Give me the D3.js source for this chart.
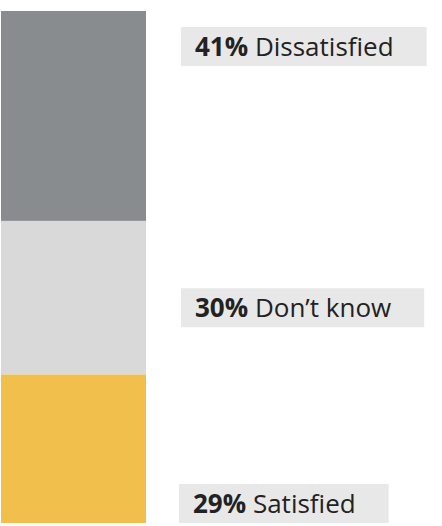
<!DOCTYPE html>
<html><head><meta charset="utf-8">
<script src="https://d3js.org/d3.v7.min.js"></script>
<style>body{margin:0;background:#fff}svg{display:block}</style>
</head><body>
<svg id="c" width="442" height="526"></svg>
<script>
const categories = ["Dissatisfied", "Don\u2019t know", "Satisfied"];
const values = [41, 30, 29];
const colors = ["#898c8f", "#d9d9d9", "#f0bf4c"];
const labelAnchor = ["top", "middle", "bottom"];

const svg = d3.select("#c");
const total = d3.sum(values);
const y = d3.scaleLinear().domain([0, total]).range([11, 523]);
const x0 = 1, barW = 145;

let cum = 0;
const segs = values.map((v, i) => { const s = {cat: categories[i], v, i, y0: cum, y1: cum + v}; cum += v; return s; });

svg.selectAll("rect.seg").data(segs).join("rect").attr("class", "seg")
  .attr("x", x0).attr("width", barW)
  .attr("y", d => y(d.y0)).attr("height", d => y(d.y1) - y(d.y0))
  .attr("fill", d => colors[d.i]);

const boxH = 39, boxX = 181, padL = 14, padR = 33;
const fs = 26;
segs.forEach(d => {
  let top;
  if (labelAnchor[d.i] === "top") top = y(d.y0) + 16;
  else if (labelAnchor[d.i] === "bottom") top = y(d.y1) - boxH;
  else top = (y(d.y0) + y(d.y1)) / 2 - boxH / 2 + 10;
  const bx = d.i === 2 ? boxX - 2 : boxX;
  const g = svg.append("g");
  const rect = g.append("rect").attr("x", bx).attr("y", top).attr("height", boxH).attr("fill", "#e8e8e8");
  const t = g.append("text").attr("x", bx + padL).attr("y", top + 29)
    .attr("font-family", "'Open Sans', sans-serif").attr("font-size", fs).attr("fill", "#222");
  t.append("tspan").attr("font-weight", "bold").text(d.v + "%");
  t.append("tspan").text(" " + d.cat);
  const w = t.node().getComputedTextLength();
  rect.attr("width", padL + w + padR);
});
</script>
</body></html>
